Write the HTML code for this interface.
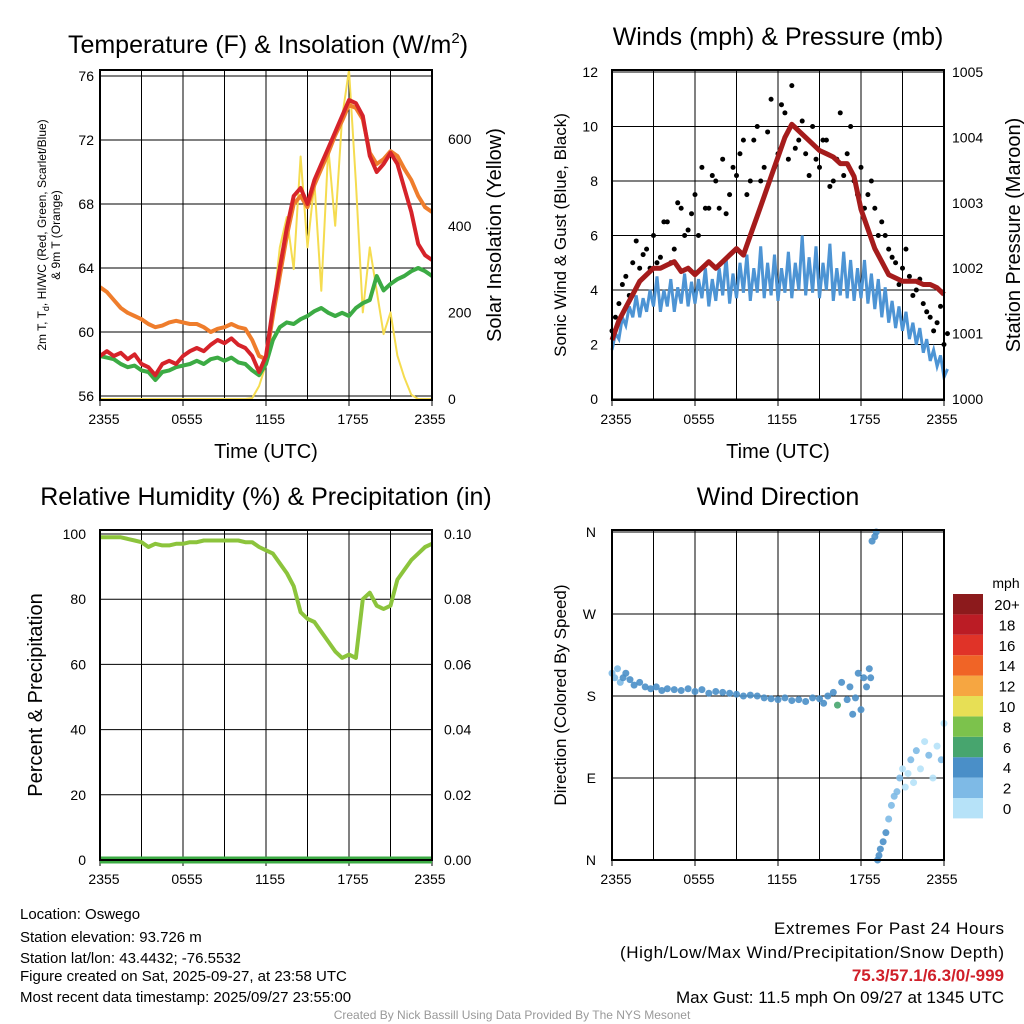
<!DOCTYPE html>
<html><head><meta charset="utf-8">
<style>
body{margin:0;background:#fff;}
svg{display:block;font-family:"Liberation Sans",Arial,sans-serif;}
</style></head>
<body>
<svg id="chart" width="1024" height="1024" viewBox="0 0 1024 1024" xmlns="http://www.w3.org/2000/svg">
<g id="p1"></g>
<g id="p2"></g>
<g id="p3"></g>
<g id="p4"></g>
<text x="268" y="53" font-size="25" text-anchor="middle">Temperature (F) &amp; Insolation (W/m<tspan dy="-10" font-size="15">2</tspan><tspan dy="10">)</tspan></text>
<text x="778" y="45" font-size="25" text-anchor="middle">Winds (mph) &amp; Pressure (mb)</text>
<text x="266" y="505" font-size="25" text-anchor="middle">Relative Humidity (%) &amp; Precipitation (in)</text>
<text x="778" y="505" font-size="25" text-anchor="middle">Wind Direction</text>
<g font-size="15">
<text x="20" y="919">Location: Oswego</text>
<text x="20" y="942">Station elevation: 93.726 m</text>
<text x="20" y="963">Station lat/lon: 43.4432; -76.5532</text>
<text x="20" y="981">Figure created on Sat, 2025-09-27, at 23:58 UTC</text>
<text x="20" y="1002">Most recent data timestamp: 2025/09/27 23:55:00</text>
</g>
<g font-size="17" text-anchor="end">
<text x="1004" y="934" textLength="230">Extremes For Past 24 Hours</text>
<text x="1004" y="958" textLength="384">(High/Low/Max Wind/Precipitation/Snow Depth)</text>
<text x="1004" y="981" fill="#d0202a" font-weight="bold">75.3/57.1/6.3/0/-999</text>
<text x="1004" y="1003" textLength="328">Max Gust: 11.5 mph On 09/27 at 1345 UTC</text>
</g>
<text x="512" y="1019" font-size="12" fill="#999" text-anchor="middle">Created By Nick Bassill Using Data Provided By The NYS Mesonet</text>
</svg>
<script>
// half-hourly data, t = 0..24 h
const xLabels=["2355","0555","1155","1755","2355"];
const tempT=[58.5,58.8,58.5,58.7,58.3,58.6,58.0,57.8,57.3,58.0,58.2,58.0,58.5,58.8,59.0,58.8,59.2,59.5,59.3,59.6,59.2,59.0,58.5,57.5,58.5,61.5,64,66.5,68.5,69,68,69.5,70.5,71.5,72.5,73.5,74.5,74.3,73.5,71,70,70.5,71.2,70.5,69,67.5,65.5,64.8,64.5];
const temp9m=[62.8,62.5,62.0,61.5,61.2,61.0,60.8,60.5,60.3,60.4,60.6,60.7,60.6,60.5,60.5,60.3,60.0,60.2,60.3,60.5,60.3,60.2,59.5,58.5,58.3,61.0,63.5,66,68,68.5,67.8,69.2,70.2,71.2,72.3,73.2,74.2,74.0,73.3,71.2,70.5,70.8,71.3,71.0,70.2,69.5,68.5,67.8,67.5];
const dewT=[58.5,58.4,58.3,58.0,57.8,57.9,57.6,57.5,57.0,57.5,57.6,57.8,57.9,58.0,58.2,58.0,58.3,58.4,58.2,58.4,58.1,58.0,57.6,57.3,58.0,59.5,60.3,60.6,60.5,60.8,61.0,61.3,61.5,61.2,61.0,61.2,61.0,61.5,61.8,62.0,63.5,62.6,63.0,63.3,63.5,63.8,64.0,63.8,63.5];
const solar=[0,0,0,0,0,0,0,0,0,0,0,0,0,0,0,0,0,0,0,0,0,0,2,30,80,200,350,420,300,560,350,500,250,580,400,650,760,500,200,350,250,150,200,100,50,10,0,0,0];
const windLow=[1.8,2.2,2.7,3.0,3.0,3.2,3.4,3.2,3.4,3.2,3.5,3.4,3.5,3.7,3.4,3.6,3.8,3.5,3.7,3.9,3.6,3.9,3.7,3.8,3.6,3.9,3.7,4.0,3.8,3.9,3.7,4.0,3.6,3.8,3.7,3.6,3.7,3.5,3.3,3.0,2.8,2.6,2.5,2.2,2.0,1.7,1.4,1.2,0.8];
const windHigh=[2.4,3.0,3.4,3.8,3.7,4.0,4.5,4.0,4.4,4.1,4.6,4.3,4.4,4.8,4.4,4.8,5.2,4.6,5.0,5.3,4.8,5.6,5.0,5.3,4.8,5.4,5.0,6.0,5.2,5.6,5.0,5.7,4.8,5.4,5.1,4.8,5.1,4.6,4.4,4.1,3.6,3.4,3.2,2.8,2.6,2.2,1.8,1.6,1.1];
const gustA=[2.5,3.5,4.5,5.0,4.8,5.5,6.0,5.2,6.5,5.5,7.0,6.2,7.5,8.5,7.0,8.0,8.8,7.5,8.2,9.5,8.0,10.0,8.5,11.0,9.0,10.5,11.5,9.5,9.0,10.0,8.5,9.5,8.0,10.5,9.0,8.0,8.5,7.5,7.0,6.5,5.5,5.0,4.8,4.5,4.0,3.5,3.0,2.8,2.0];
const gustB=[3.0,4.2,3.8,5.8,5.3,4.8,5.0,6.5,5.0,7.2,6.0,6.8,6.0,7.0,8.2,7.0,6.8,8.5,9.0,7.5,9.5,8.0,9.8,8.5,10.8,8.8,9.2,10.2,8.2,8.8,9.5,7.8,8.8,8.2,10.0,7.5,7.0,8.0,6.0,6.0,5.2,4.2,5.5,3.8,4.4,3.2,2.5,3.4,2.4];
const pressure=[1000.9,1001.2,1001.4,1001.6,1001.8,1001.9,1002.0,1002.0,1002.05,1002.1,1001.95,1002.0,1001.9,1002.0,1002.1,1002.0,1002.1,1002.2,1002.3,1002.2,1002.5,1002.8,1003.1,1003.4,1003.7,1004.0,1004.2,1004.1,1004.0,1003.9,1003.8,1003.75,1003.7,1003.6,1003.6,1003.4,1002.9,1002.6,1002.3,1002.1,1001.9,1001.85,1001.8,1001.8,1001.8,1001.75,1001.75,1001.7,1001.6];
const rh=[99,99,99,99,98.5,98,97.5,96,97,96.5,96.5,97,97,97.5,97.5,98,98,98,98,98,98,97.5,97.5,96,95,94,91,88,84,76,74,73,70,67,64,62,63,62,80,82,78,77,78,86,89,92,94,96,97];
const precip=[0,0,0,0,0,0,0,0,0,0,0,0,0,0,0,0,0,0,0,0,0,0,0,0,0,0,0,0,0,0,0,0,0,0,0,0,0,0,0,0,0,0,0,0,0,0,0,0,0];
const dirT=[0,0.2,0.4,0.6,0.8,1,1.3,1.6,2,2.4,2.8,3.2,3.6,4,4.5,5,5.5,6,6.5,7,7.5,8,8.5,9,9.5,10,10.5,11,11.5,12,12.5,13,13.5,14,14.5,15,15.3,15.6,16,16.3,16.6,17,17.2,17.4,17.6,17.8,18,18.2,18.4,18.6,18.7,18.8,19.0,19.1,19.2,19.3,19.4,19.6,19.8,20.0,20.2,20.4,20.6,20.8,21.0,21.2,21.4,21.6,21.8,22.0,22.3,22.6,22.9,23.2,23.5,23.8,24];
const dirV=[205,200,210,195,200,205,198,192,195,190,188,190,186,188,187,186,188,185,187,183,185,184,183,182,180,181,180,178,177,176,178,175,176,174,178,177,172,180,184,170,195,176,190,160,178,205,165,200,190,210,200,350,355,360,0,5,12,20,30,45,60,70,75,90,100,80,95,110,85,120,100,130,115,90,125,110,150];
const dirS=[3,3,2,3,4,4,4,4,4,4,4,4,4,4,4,4,5,4,4,4,5,4,4,4,4,4,4,5,4,4,4,5,4,4,5,5,4,4,4,6,4,4,4,4,4,5,4,4,4,4,4,4,4,4,4,4,4,4,4,3,3,3,2,3,1,1,1,2,1,2,1,1,2,1,1,2,1];
const cbLabels=["0","2","4","6","8","10","12","14","16","18","20+"];
const cbColors=["#b6e2f8","#7ebae6","#4a8fc8","#47a56e","#7cc24c","#e7df55","#f6a641","#f06426","#e03328","#bb1c25","#8c1a1c"];

const NS="http://www.w3.org/2000/svg";
function mk(p,tag,a){const e=document.createElementNS(NS,tag);for(const k in a)e.setAttribute(k,a[k]);p.appendChild(e);return e;}
function panel(g,X0,Y0,X1,Y1){
  const xs=t=>X0+(X1-X0)*t/24;
  for(let k=1;k<8;k++){const l=mk(g,'line',{x1:xs(k*3),x2:xs(k*3),y1:Y0,y2:Y1,stroke:'#000','stroke-width':1});
    
    }
  xLabels.forEach((s,i)=>{const t=mk(g,'text',{x:xs(i*6)+(i==0?4:i==4?-2:4),y:Y1+24,'font-size':14,'text-anchor':'middle'});t.textContent=s;
    
    
    const tk=mk(g,'line',{x1:xs(i*6),x2:xs(i*6),y1:Y1,y2:Y1+6,stroke:'#000'});
    
    });
  return xs;
}
function frame(g,X0,Y0,X1,Y1){const r=mk(g,'rect',{x:X0,y:Y0,width:X1-X0,height:Y1-Y0,fill:'none',stroke:'#000','stroke-width':2});
  
  }
function hline(g,y,X0,X1){const l=mk(g,'line',{x1:X0,x2:X1,y1:y,y2:y,stroke:'#000','stroke-width':1});
  
  }
function ytext(g,x,y,s,anchor,name){const t=mk(g,'text',{x:x,y:y+5,'font-size':14,'text-anchor':anchor});t.textContent=s;
  
  return t;}
function rot(g,x,y,s,size,name){const t=mk(g,'text',{x:x,y:y,'font-size':size,'text-anchor':'middle',transform:`rotate(-90 ${x} ${y})`});t.textContent=s;
  
  return t;}
function path(g,arr,xs,ys,col,w,name){const d=arr.map((v,i)=>(i?'L':'M')+xs(i*0.5).toFixed(1)+' '+ys(v).toFixed(1)).join(' ');
  const p=mk(g,'path',{d:d,fill:'none',stroke:col,'stroke-width':w,'stroke-linejoin':'round'});
  
  return p;}
function xtitle(g,x,y){const t=mk(g,'text',{x:x,y:y,'font-size':20,'text-anchor':'middle'});t.textContent='Time (UTC)';
  
  }

// Panel 1
(function(){const g=document.getElementById('p1');const X0=100,X1=432,Y0=70,Y1=400;
  const xs=panel(g,X0,Y0,X1,Y1);const ys=v=>Y1-(v-55.75)*16;const ys2=v=>399-v*0.433;
  [56,60,64,68,72,76].forEach(v=>{hline(g,ys(v),X0,X1);ytext(g,X0-6,ys(v),String(v),'end','y-tick-label');});
  [0,200,400,600].forEach(v=>ytext(g,X1+16,ys2(v),String(v),'start','y2-tick-label'));
  path(g,solar,xs,ys2,'#f5dc50',2,'solar-insolation-line');
  path(g,temp9m,xs,ys,'#ef7d2c',4,'temp-9m-line');
  path(g,dewT,xs,ys,'#3cab44',4,'dewpoint-line');
  path(g,tempT,xs,ys,'#d6232a',4,'temperature-line');
  frame(g,X0,Y0,X1,Y1);xtitle(g,266,458);
  const t=rot(g,46,235,'',12,'y-axis-title');
  t.innerHTML='2m T, T<tspan dy="3" font-size="9">d</tspan><tspan dy="-3">, HI/WC (Red, Green, Scarlet/Blue)</tspan>';
  rot(g,60,235,'& 9m T (Orange)',12,'y-axis-title-line2');
  rot(g,501,235,'Solar Insolation (Yellow)',20,'y2-axis-title');
})();
// Panel 2
(function(){const g=document.getElementById('p2');const X0=612,X1=944,Y0=70,Y1=400;
  const xs=panel(g,X0,Y0,X1,Y1);const ys=v=>399-v*27.25;const ys2=v=>399-(v-1000)*65.4;
  [0,2,4,6,8,10,12].forEach(v=>{hline(g,ys(v),X0,X1);ytext(g,X0-14,ys(v),String(v),'end','y-tick-label');});
  [1000,1001,1002,1003,1004,1005].forEach(v=>ytext(g,X1+8,ys2(v),String(v),'start','y2-tick-label'));
  let d='';windLow.forEach((v,i)=>{d+=(i?'L':'M')+xs(i*0.5).toFixed(1)+' '+ys(v).toFixed(1)+' L'+xs(i*0.5+0.25).toFixed(1)+' '+ys(windHigh[i]).toFixed(1)+' ';});
  const w=mk(g,'path',{d:d,fill:'none',stroke:'#4d94d4','stroke-width':3});
  
  
  gustA.forEach((v,i)=>{const c=mk(g,'circle',{cx:xs(i*0.5),cy:ys(v),r:2.5,fill:'#000'});
    
    });
  gustB.forEach((v,i)=>{const c=mk(g,'circle',{cx:xs(i*0.5+0.25),cy:ys(v),r:2.5,fill:'#000'});
    
    });
  path(g,pressure,xs,ys2,'#a51c1c',5,'pressure-line');
  frame(g,X0,Y0,X1,Y1);xtitle(g,778,458);
  rot(g,566,235,'Sonic Wind & Gust (Blue, Black)',17,'y-axis-title');
  rot(g,1020,235,'Station Pressure (Maroon)',20,'y2-axis-title');
})();
// Panel 3
(function(){const g=document.getElementById('p3');const X0=100,X1=432,Y0=530,Y1=860;
  const xs=panel(g,X0,Y0,X1,Y1);const ys=v=>860-v*3.26;const ys2=v=>860-v*3260;
  [0,20,40,60,80,100].forEach(v=>{hline(g,ys(v),X0,X1);ytext(g,X0-14,ys(v),String(v),'end','y-tick-label');});
  ["0.00","0.02","0.04","0.06","0.08","0.10"].forEach(s=>ytext(g,X1+12,ys2(parseFloat(s)),s,'start','y2-tick-label'));
  path(g,rh,xs,ys,'#8cc43c',4,'humidity-line');
  path(g,precip,xs,ys2,'#3cab44',7,'precip-line');
  frame(g,X0,Y0,X1,Y1);
  rot(g,42,695,'Percent & Precipitation',20,'y-axis-title');
})();
// Panel 4
(function(){const g=document.getElementById('p4');const X0=612,X1=944,Y0=530,Y1=860;
  const xs=panel(g,X0,Y0,X1,Y1);const ys=v=>860-v*0.911;
  [[0,'N'],[90,'E'],[180,'S'],[270,'W'],[360,'N']].forEach(([v,s])=>{hline(g,ys(v),X0,X1);ytext(g,X0-16,ys(v),s,'end','y-tick-label');});
  dirT.forEach((t,i)=>{const c=mk(g,'circle',{cx:xs(t),cy:ys(dirV[i]),r:3.5,fill:cbColors[Math.min(10,Math.floor(dirS[i]/2))],opacity:0.9});
    
    });
  frame(g,X0,Y0,X1,Y1);
  rot(g,566,695,'Direction (Colored By Speed)',17,'y-axis-title');
  const u=mk(g,'text',{x:1006,y:588,'font-size':14,'text-anchor':'middle'});u.textContent='mph';
  
  
  cbColors.forEach((c,i)=>{const y=798-i*20.4;
    const r=mk(g,'rect',{x:953,y:y,width:30,height:20.4,fill:c});
    
    
    const t=mk(g,'text',{x:1007,y:y+16,'font-size':15,'text-anchor':'middle'});t.textContent=cbLabels[i];
    
    });
})();
</script>
</body></html>
